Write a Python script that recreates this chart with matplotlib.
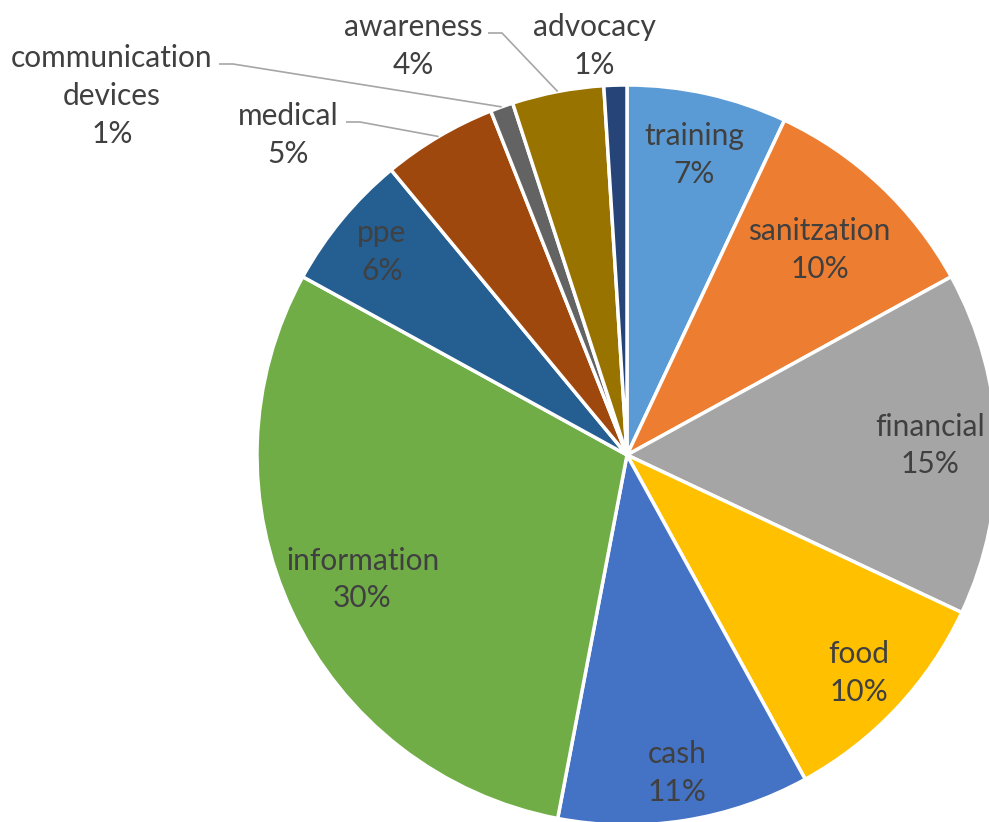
import matplotlib.pyplot as plt
import numpy as np

categories = ["training", "sanitzation", "financial", "food", "cash", "information",
              "ppe", "medical", "communication\ndevices", "awareness", "advocacy"]
shares = [7, 10, 15, 10, 11, 30, 6, 5, 1, 4, 1]
colors = ["#5B9BD5", "#ED7D31", "#A5A5A5", "#FFC000", "#4472C4", "#70AD47",
          "#255E91", "#9E480E", "#636363", "#997300", "#264478"]

# label placement: fraction of radius for inside labels, None for outside ones
inside_r = [0.83, 0.76, 0.82, 0.86, 0.87, 0.79, 0.86, None, None, None, None]
# outside label centres (pixel coords, y down) and where the leader line starts
outside_pos = {7: (288, 135), 8: (112, 96), 9: (413, 46), 10: (594, 46)}
leader_start = {7: (346, 122), 8: (219, 64), 9: (488, 33)}

W, H = 989, 822
cx, cy, R = 627, 455, 370
text_color = "#404040"
font = "Lato"

fig = plt.figure(figsize=(W / 100, H / 100), dpi=100)
ax = fig.add_axes([0, 0, 1, 1])

wedges, _ = ax.pie(shares, colors=colors, startangle=90, counterclock=False,
                   radius=R, center=(cx, H - cy),
                   wedgeprops=dict(edgecolor="white", linewidth=2.5))

# pie() resets the limits, so fix the pixel frame afterwards
ax.set_xlim(0, W)
ax.set_ylim(0, H)
ax.set_aspect("equal")
ax.axis("off")

total = sum(shares)
cum = np.cumsum([0] + shares)
for i, (name, v) in enumerate(zip(categories, shares)):
    mid = (cum[i] + v / 2) / total * 2 * np.pi  # clockwise from top
    label = f"{name}\n{round(v / total * 100)}%"
    if inside_r[i] is not None:
        r = inside_r[i] * R
        x = cx + r * np.sin(mid)
        y = H - (cy - r * np.cos(mid))
    else:
        px, py = outside_pos[i]
        x, y = px, H - py
        if i in leader_start:
            sx, sy = leader_start[i]
            ex = cx + R * np.sin(mid)
            ey = cy - R * np.cos(mid)
            ax.plot([sx, sx + 14, ex], [H - sy, H - sy, H - ey],
                    color="#A6A6A6", lw=1.2, solid_capstyle="butt")
    ax.text(x, y, label, ha="center", va="center", fontsize=21.5,
            color=text_color, family=font, linespacing=1.42)

fig.savefig("out.png", dpi=100)
